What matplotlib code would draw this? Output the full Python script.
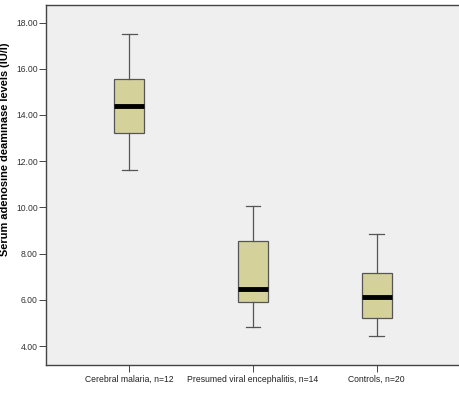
import matplotlib
matplotlib.use("Agg")
import matplotlib.pyplot as plt

# Grupos y estadisticos
groups = ["Cerebral malaria, n=12", "Presumed viral encephalitis, n=14", "Controls, n=20"]
whislo = [11.64, 4.81, 4.45]
q1 = [13.21, 5.89, 5.21]
med = [14.39, 6.48, 6.12]
q3 = [15.57, 8.54, 7.14]
whishi = [17.50, 10.08, 8.87]
yticks = [4, 6, 8, 10, 12, 14, 16, 18]

plt.rcParams["font.family"] = ["Liberation Sans", "DejaVu Sans"]

fig = plt.figure(figsize=(4.59, 4.07), dpi=100)
ax = fig.add_axes([46 / 459, 1 - 365 / 407, 1 - 46 / 459, 360 / 407])
ax.set_facecolor("#efefef")

stats = []
for i, g in enumerate(groups):
    stats.append({"label": g, "whislo": whislo[i], "q1": q1[i], "med": med[i],
                  "q3": q3[i], "whishi": whishi[i], "fliers": []})

ax.bxp(stats, positions=[1, 2, 3], widths=0.24, patch_artist=True, showfliers=False,
       boxprops=dict(facecolor="#d5d19b", edgecolor="#555555", linewidth=0.9),
       whiskerprops=dict(color="#555555", linewidth=0.9),
       capprops=dict(color="#555555", linewidth=0.9),
       capwidths=0.12,
       medianprops=dict(color="black", linewidth=3.5, solid_capstyle="butt"))

ax.set_xlim(0.327, 3.665)
ax.set_ylim(3.18, 18.76)
ax.set_yticks(yticks)
ax.set_yticklabels([f"{v:.2f}" for v in yticks], fontsize=6.2, color="#333333")
ax.tick_params(axis="x", labelsize=6.2, length=5, width=0.7, pad=2, color="#444444", labelcolor="#222222")
ax.tick_params(axis="y", length=5, width=0.7, color="#444444", pad=1)
ax.set_ylabel("Serum adenosine deaminase levels (IU/l)", fontsize=7.9, fontweight="bold", labelpad=5)
ax.yaxis.set_label_coords(-0.087, 0.6)

for s in ["left", "bottom", "top"]:
    ax.spines[s].set_color("#444444")
    ax.spines[s].set_linewidth(1.0)
ax.spines["right"].set_visible(False)

fig.savefig("out.png", dpi=100)
